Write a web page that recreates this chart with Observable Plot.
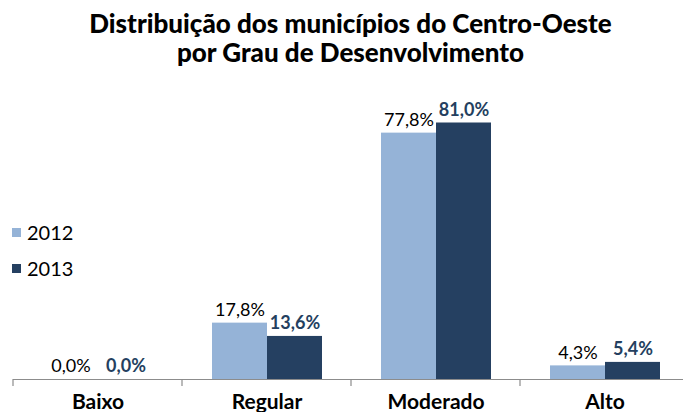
<!DOCTYPE html>
<html><head><meta charset="utf-8">
<script src="https://cdn.jsdelivr.net/npm/d3@7"></script>
<script src="https://cdn.jsdelivr.net/npm/@observablehq/plot@0.6"></script>
<style>
body{margin:0;background:#fff;font-family:Lato,"Open Sans",sans-serif;}
#wrap{position:relative;width:683px;height:412px;overflow:hidden;background:#fff}
#title{height:80px;box-sizing:border-box;padding-top:9px;padding-left:18px;text-align:center;font-weight:900;font-size:26px;line-height:29px;color:#000;white-space:nowrap}
#legend{position:absolute;left:12px;top:219px;font-size:20px;color:#000}
.li{display:flex;align-items:center;height:26px;margin-bottom:10px}
.sw{width:9px;height:9px;margin-right:6px}
</style></head>
<body>
<div id="wrap">
<div id="title">Distribuição dos municípios do Centro-Oeste<br>por Grau de Desenvolvimento</div>
<div id="chart"></div>
<div id="legend"></div>
</div>
<script>
const categories = ["Baixo", "Regular", "Moderado", "Alto"];
const years = ["2012", "2013"];
const values2012 = [0.0, 17.8, 77.8, 4.3];
const values2013 = [0.0, 13.6, 81.0, 5.4];
const colors = ["#95B3D7", "#254061"];

const data = [];
categories.forEach((c, i) => {
  data.push({cat: c, year: "2012", value: values2012[i]});
  data.push({cat: c, year: "2013", value: values2013[i]});
});
const fmt = v => v.toFixed(1).replace(".", ",") + "%";

const plot = Plot.plot({
  width: 683, height: 332,
  marginTop: 14, marginBottom: 33, marginLeft: 12, marginRight: -7,
  style: {fontFamily: "Lato, 'Open Sans', sans-serif", background: "white", overflow: "visible"},
  fx: {domain: categories, padding: 0, label: null},
  x: {domain: years, paddingInner: 0, paddingOuter: 0.51, axis: null},
  y: {domain: [0, 90], axis: null},
  color: {domain: years, range: colors},
  marks: [
    Plot.barY(data, {fx: "cat", x: "year", y: "value", fill: "year", inset: 0}),
    Plot.ruleY([0], {stroke: "#8c8c8c", strokeWidth: 1.2}),
    Plot.text(data.filter(d => d.year === "2012"), {fx: "cat", x: "year", y: "value", text: d => fmt(d.value), dy: -13, fill: "#000", fontSize: 18}),
    Plot.text(data.filter(d => d.year === "2013"), {fx: "cat", x: "year", y: "value", text: d => fmt(d.value), dy: -13, fill: "#243F60", fontSize: 18, fontWeight: "bold"}),
    Plot.axisFx({anchor: "bottom", tickSize: 0, tickPadding: 15, fontSize: 21, fontWeight: "bold", label: null, fill: "#000"})
  ]
});

// category separator ticks from the fx scale
const sfx = plot.scale("fx");
const sy = plot.scale("y");
const y0 = sy.apply(0);
const bounds = categories.map(c => sfx.apply(c));
bounds.push(sfx.apply(categories[categories.length - 1]) + sfx.bandwidth);
const svg = d3.select(plot);
svg.append("g").selectAll("line").data(bounds).join("line")
  .attr("x1", d => d).attr("x2", d => d)
  .attr("y1", y0).attr("y2", y0 + 7)
  .attr("stroke", "#8c8c8c").attr("stroke-width", 1.2);

document.getElementById("chart").appendChild(plot);

const lg = d3.select("#legend");
years.forEach((y, i) => {
  const row = lg.append("div").attr("class", "li");
  row.append("div").attr("class", "sw").style("background", colors[i]);
  row.append("span").text(y);
});
</script>
</body></html>
